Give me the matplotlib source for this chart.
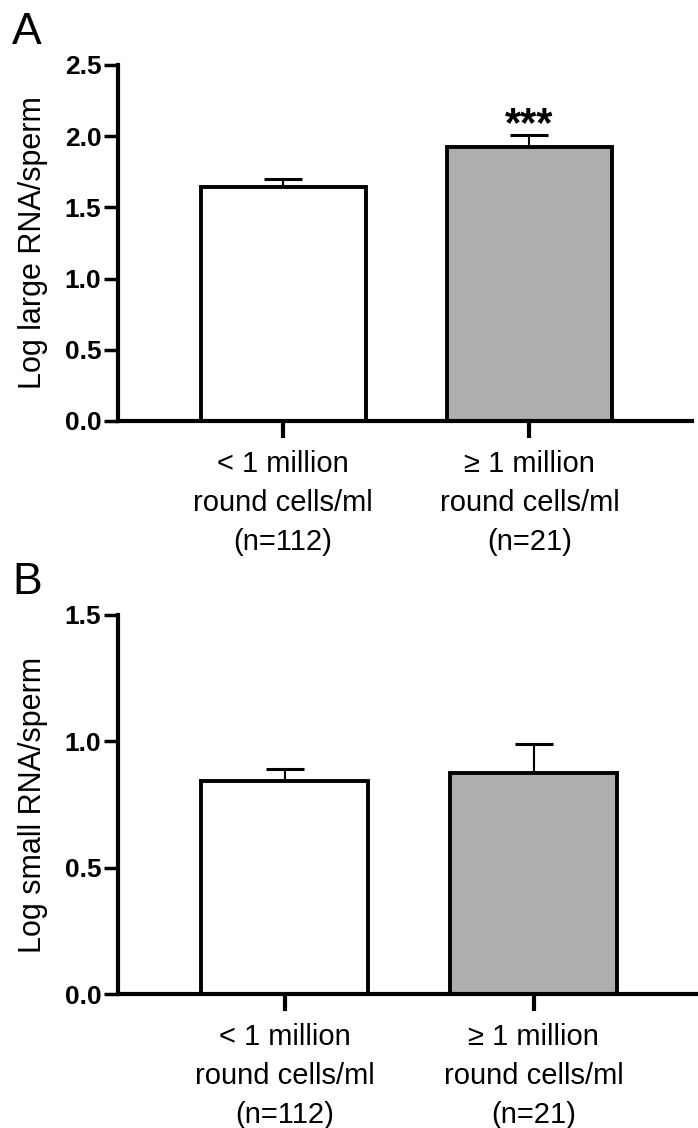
import matplotlib
matplotlib.use("Agg")
import matplotlib.pyplot as plt
import numpy as np

categories = ["< 1 million\nround cells/ml\n(n=112)", "\u2265 1 million\nround cells/ml\n(n=21)"]
large_means = [1.643, 1.921]
large_err = [0.057, 0.089]
small_means = [0.842, 0.874]
small_err = [0.049, 0.116]
bar_colors = ["#ffffff", "#aeaeae"]
yticks_a = [0.0, 0.5, 1.0, 1.5, 2.0, 2.5]
yticks_b = [0.0, 0.5, 1.0, 1.5]

plt.rcParams['font.family'] = ['Liberation Sans', 'DejaVu Sans']

fig = plt.figure(figsize=(6.98, 11.28), dpi=100)
W, H = 698, 1128

def make_axes(x0, y_top, x1, y_bot):
    return fig.add_axes([x0 / W, 1 - y_bot / H, (x1 - x0) / W, (y_bot - y_top) / H])

axA = make_axes(118, 65, 692, 421)
axB = make_axes(118, 615, 698, 994)

def style(ax, means, errs, yticks, ylabel, ymax):
    x = np.arange(len(means))
    ax.bar(x, means, width=0.67, color=bar_colors, edgecolor="black", linewidth=2.8, zorder=2)
    ax.errorbar(x, means, yerr=[np.zeros(len(errs)), errs], fmt="none", ecolor="black",
                elinewidth=1.5, capsize=14, capthick=2.2, zorder=1)
    ax.set_xlim(-0.67, 1.66)
    ax.set_ylim(0, ymax)
    ax.set_yticks(yticks)
    ax.set_yticklabels([f"{v:.1f}" for v in yticks], fontweight="bold", fontsize=19)
    ax.set_xticks(x)
    ax.set_xticklabels(categories, fontsize=21, linespacing=1.5)
    for s in ["top", "right"]:
        ax.spines[s].set_visible(False)
    for s in ["left", "bottom"]:
        ax.spines[s].set_linewidth(3)
    ax.tick_params(axis="y", direction="out", length=10, width=2.5, pad=2)
    ax.tick_params(axis="x", direction="out", length=12, width=3, pad=9)
    ax.set_ylabel(ylabel, fontsize=22)
    ax.yaxis.set_label_coords(-70 / (ax.get_position().width * W), 0.5)

style(axA, large_means, large_err, yticks_a, "Log large RNA/sperm", 2.5)
style(axB, small_means, small_err, yticks_b, "Log small RNA/sperm", 1.5)

axA.text(1, 2.0, "***", ha="center", va="baseline", fontsize=30, fontweight="bold")

fig.text(12 / W, 1 - 32 / H, "A", fontsize=32, va="center", ha="left")
fig.text(12 / W, 1 - 582 / H, "B", fontsize=32, va="center", ha="left")

fig.savefig("out.png", dpi=100)
